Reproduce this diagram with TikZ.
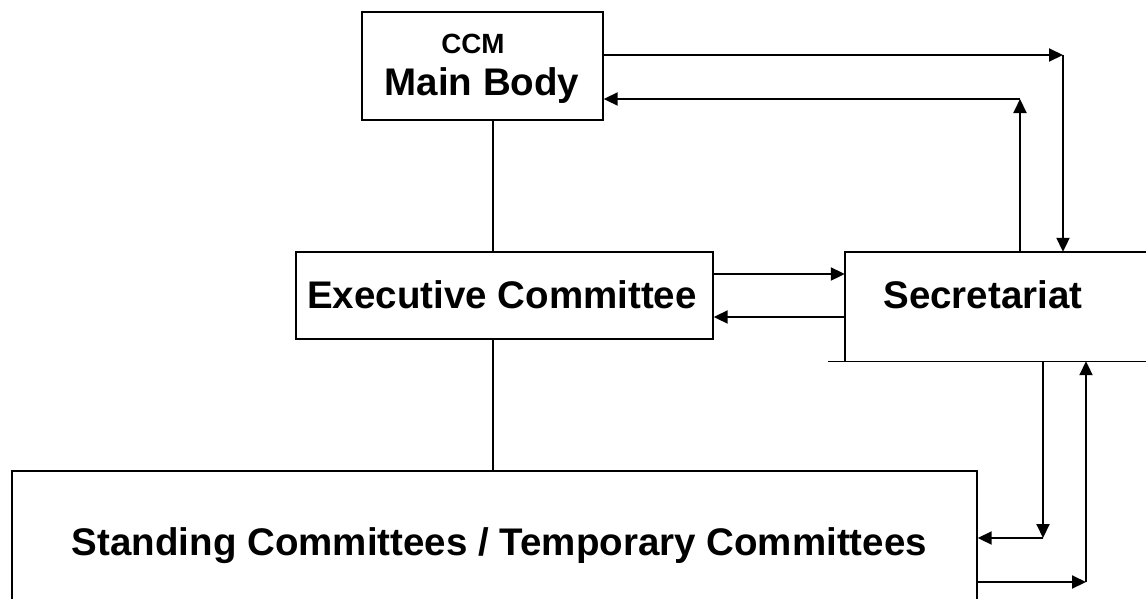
\documentclass[tikz,border=0pt]{standalone}
\usepackage{fontspec}
\setmainfont{Liberation Sans}
\usetikzlibrary{arrows.meta}
\begin{document}
\begin{tikzpicture}[x=1pt,y=-1pt,
  box/.style={draw,line width=1.4pt,inner sep=0pt},
  ghost/.style={inner sep=0pt},
  lbl/.style={font=\bfseries\fontsize{38.5pt}{40pt}\selectfont,inner sep=0pt,anchor=base},
  smalllbl/.style={font=\bfseries\fontsize{27.8pt}{30pt}\selectfont,inner sep=0pt,anchor=base},
  conn/.style={line width=1.4pt},
  arr/.style={line width=2pt,-{Triangle[length=14pt,width=13pt]}}]
\useasboundingbox (0,0) rectangle (1146,598);
% boxes
\node[box,minimum width=241pt,minimum height=108pt] (main) at (482.5,66) {};
\node[box,minimum width=417pt,minimum height=87pt] (exec) at (504.5,295.5) {};
\node[box,minimum width=965pt,minimum height=140pt] (stand) at (494.5,541) {};
\node[ghost,minimum width=310pt,minimum height=109pt] (sec) at (1000,306.5) {};
\draw[conn] ([xshift=-17pt]sec.south west) -- (sec.south east);
\draw[conn] (sec.south west) -- (sec.north west) -- (sec.north east);
% texts
\node[smalllbl] (tccm) at (473,53) {CCM};
\node[lbl] (tmain) at (482,95) {Main Body};
\node[lbl] (texec) at (502,308) {Executive Committee};
\node[lbl] (tsec) at (983,308) {Secretariat};
\node[lbl] (tstand) at (499.5,555) {Standing Committees / Temporary Committees};
% helper coordinates
\coordinate (vx) at (493,0);
\coordinate (tA) at (1063,55);
\coordinate (tB) at (1020,99);
\coordinate (e1) at (0,274);
\coordinate (e2) at (0,317);
\coordinate (bA) at (1043,538);
\coordinate (bB) at (1086,582);
% vertical hierarchy lines
\draw[conn] (vx |- main.south) -- (vx |- exec.north);
\draw[conn] (vx |- exec.south) -- (vx |- stand.north);
% main body <-> secretariat
\draw[arr] (main.east |- tA) -- (tA);
\draw[arr] (tA) -- (tA |- sec.north);
\draw[arr] (tB |- sec.north) -- (tB);
\draw[arr] (tB) -- (main.east |- tB);
% executive <-> secretariat
\draw[arr] (exec.east |- e1) -- (sec.west |- e1);
\draw[arr] (sec.west |- e2) -- (exec.east |- e2);
% secretariat <-> standing committees
\draw[arr] (bA |- sec.south) -- (bA);
\draw[arr] (bA) -- (stand.east |- bA);
\draw[arr] (stand.east |- bB) -- (bB);
\draw[arr] (bB) -- (bB |- sec.south);
\end{tikzpicture}
\end{document}
